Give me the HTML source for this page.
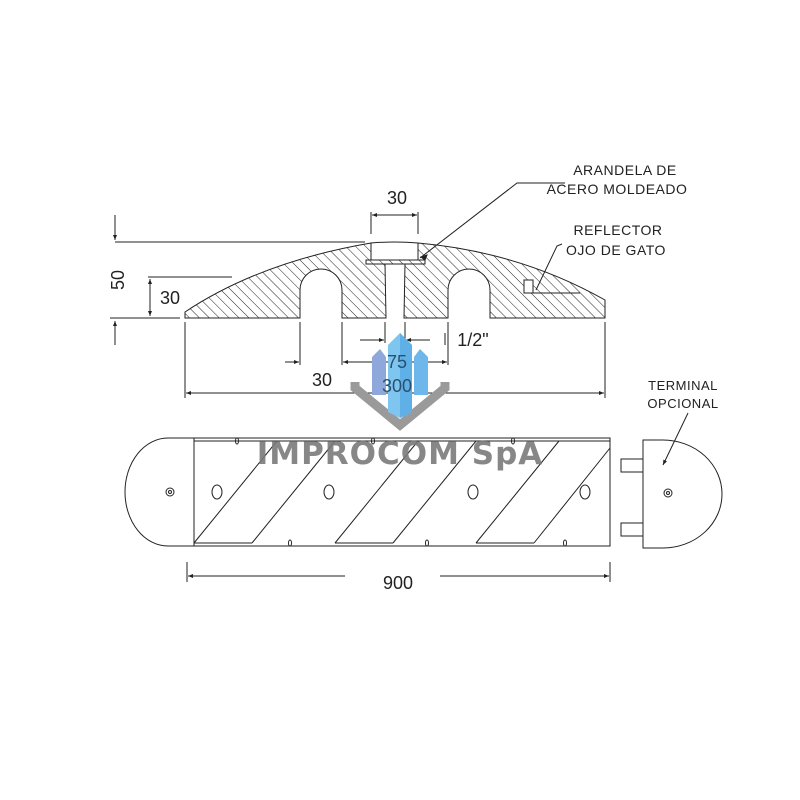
<!DOCTYPE html>
<html><head><meta charset="utf-8"><style>body{margin:0;background:#fff}svg{display:block}</style></head><body>
<svg width="800" height="800" viewBox="0 0 800 800" xmlns="http://www.w3.org/2000/svg" font-family="Liberation Sans, sans-serif">
<defs>
<pattern id="h" patternUnits="userSpaceOnUse" width="7" height="7" patternTransform="rotate(-45)">
<line x1="0" y1="0" x2="0" y2="7" stroke="#222" stroke-width="1"/>
</pattern>
<marker id="a" viewBox="0 0 10 10" refX="10" refY="5" markerWidth="9" markerHeight="5" orient="auto-start-reverse" markerUnits="userSpaceOnUse"><path d="M0,1 L10,5 L0,9z" fill="#222"/></marker>
</defs>
<g stroke="#222" fill="none" stroke-width="1">
<path d="M185,318 L185,312 Q260,262 371,243 L371,260 L366,260 L366,264 L385,264 L386,318 L342,318 L342,290 A21,21 0 0 0 300,290 L300,318 Z" fill="url(#h)"/>
<path d="M418,243 Q520,252 605,300 L605,318 L490,318 L490,290 A21,21 0 0 0 448,290 L448,318 L404,318 L405,264 L425,264 L425,260 L418,260 Z" fill="url(#h)"/>
<path d="M371,243 Q395,241 418,243"/>
<rect x="366" y="260" width="59" height="4" fill="url(#h)"/>
<rect x="524" y="280" width="9" height="13" fill="#fff"/>
<path d="M533,293 L580,293"/>
<path d="M115,242 L365,242"/>
<path d="M115,215 L115,240" marker-end="url(#a)"/>
<path d="M115,345 L115,321" marker-end="url(#a)"/>
<path d="M110,318 L180,318"/>
<path d="M148,277 L232,277"/>
<path d="M150,279 L150,316" marker-start="url(#a)" marker-end="url(#a)"/>
<path d="M371,212 L371,234 M418,212 L418,234"/>
<path d="M372,215 L417,215" marker-start="url(#a)" marker-end="url(#a)"/>
<path d="M420,258 L517,183 L565,183"/>
<path d="M421,257 l6,-2 l-2,5z" fill="#222"/>
<path d="M536,290 L557,246 L562,244"/>
<path d="M300,322 L300,365 M342,322 L342,365 M448,322 L448,365 M385,322 L385,343 M405,322 L405,343 M445,333 L445,345"/>
<path d="M285,362 L299,362" marker-end="url(#a)"/>
<path d="M343,362 L447,362" marker-start="url(#a)" marker-end="url(#a)"/>
<path d="M360,340 L384,340" marker-end="url(#a)"/>
<path d="M430,340 L406,340" marker-end="url(#a)"/>
<path d="M185,322 L185,398 M605,322 L605,398"/>
<path d="M186,393 L604,393" marker-start="url(#a)" marker-end="url(#a)"/>
</g>
<g>
<path d="M355,382 L355,388 L400,425 L445,388 L445,382" fill="none" stroke="#9a9a9a" stroke-width="9"/>
<path d="M372,357 L380,349 L386,357 L386,395 L372,395Z" fill="#8fa8dc"/>
<path d="M414,357 L420,349 L428,357 L428,395 L414,395Z" fill="#6eb7ea"/>
<path d="M388,345 L400,333 L412,345 L412,412 L400,418 L388,412Z" fill="#7ec6f0"/>
<path d="M400,333 L412,345 L412,412 L400,418Z" fill="#5fb0e6"/>
</g>
<g fill="#222" font-size="18" text-anchor="middle">
<text x="397" y="204">30</text>
<text x="170" y="304">30</text>
<text x="0" y="0" transform="translate(124,280) rotate(-90)">50</text>
<text x="322" y="386">30</text>
<text x="397" y="368" fill="#2a5070">75</text>
<text x="397" y="392" fill="#2a5070">300</text>
<text x="473" y="346">1/2"</text>
<text x="398" y="589">900</text>
</g>
<g fill="#222" font-size="14" text-anchor="middle" letter-spacing="0.5">
<text x="625" y="175">ARANDELA DE</text>
<text x="617" y="194">ACERO MOLDEADO</text>
<text x="618" y="235">REFLECTOR</text>
<text x="616" y="255">OJO DE GATO</text>
<text x="683" y="390" font-size="13">TERMINAL</text>
<text x="683" y="408" font-size="13">OPCIONAL</text>
</g>
<g stroke="#222" fill="none" stroke-width="1">
<path d="M168,438 L610,438 L610,546 L168,546 A43,54 0 0 1 168,438 Z"/>
<path d="M194,438 L194,546 M194,543 L252,543 M335,543 L393,543 M476,543 L534,543 M194,441 L610,441"/>
<path d="M194,543 L277,441 M252,543 L335,441"/>
<path d="M335,543 L418,441 M393,543 L476,441"/>
<path d="M476,543 L559,441 M534,543 L610,448"/>
<ellipse cx="217" cy="492" rx="5" ry="7"/>
<ellipse cx="329" cy="492" rx="5" ry="7"/>
<ellipse cx="473" cy="492" rx="5" ry="7"/>
<ellipse cx="585" cy="492" rx="5" ry="7"/>
<circle cx="170" cy="492" r="4"/><circle cx="170" cy="492" r="1.5"/>
<ellipse cx="237" cy="441" rx="1.5" ry="3"/>
<ellipse cx="373" cy="441" rx="1.5" ry="3"/>
<ellipse cx="513" cy="441" rx="1.5" ry="3"/>
<ellipse cx="290" cy="543" rx="1.5" ry="3"/>
<ellipse cx="427" cy="543" rx="1.5" ry="3"/>
<ellipse cx="565" cy="543" rx="1.5" ry="3"/>
<path d="M643,440 L663,440 A59,54 0 0 1 663,548 L643,548 Z"/>
<rect x="621" y="459" width="22" height="13"/>
<rect x="621" y="523" width="22" height="13"/>
<circle cx="668" cy="493" r="4"/><circle cx="668" cy="493" r="1.5"/>
<path d="M688,413 L663,465" marker-end="url(#a)"/>
<path d="M187,562 L187,582 M610,562 L610,582"/>
<path d="M188,576 L345,576" marker-start="url(#a)"/>
<path d="M440,576 L609,576" marker-end="url(#a)"/>
</g>
<text x="400" y="464" font-size="31" font-weight="bold" fill="#7a7a7a" fill-opacity="0.9" text-anchor="middle" letter-spacing="1" font-family="DejaVu Sans, sans-serif">IMPROCOM SpA</text>
</svg>
</body></html>
